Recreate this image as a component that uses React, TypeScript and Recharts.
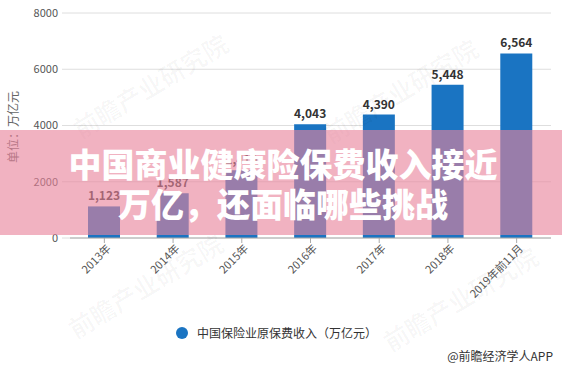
import React from 'react';
import { BarChart, Bar, XAxis, YAxis, CartesianGrid, LabelList } from 'recharts';

const years = ['2013年', '2014年', '2015年', '2016年', '2017年', '2018年', '2019年前11月'];
const premiums = [1123, 1587, 2410, 4043, 4390, 5448, 6564];
const yTicks = [0, 2000, 4000, 6000, 8000];

const seriesName = '中国保险业原保费收入（万亿元）';
const unitLabel = '单位：万亿元';
const titleLines = ['中国商业健康险保费收入接近', '万亿，还面临哪些挑战'];
const watermark = '前瞻产业研究院';
const source = '@前瞻经济学人APP';

const data = years.map((year, i) => ({ year, value: premiums[i] }));

const FONT = '"Noto Sans CJK SC", "Noto Sans", sans-serif';
const BLUE = '#1a74c2';

const XTick = (props: any) => {
  const { x, y, payload } = props;
  return (
    <g transform={`translate(${x + 3},${y})`}>
      <text x={0} y={0} dy={6} textAnchor="end" transform="rotate(-45)" fontSize={11} fill="#555">
        {payload.value}
      </text>
    </g>
  );
};

const marks = [
  { x: 150, y: 85 },
  { x: 400, y: 90 },
  { x: 145, y: 285 },
  { x: 460, y: 298 },
];

const App = () => {
  return (
    <div style={{ position: 'absolute', left: 0, top: 0, width: 562, height: 369, background: '#fff', fontFamily: FONT, overflow: 'hidden' }}>
      <BarChart width={562} height={369} data={data} margin={{ top: 13, right: 11, left: 0, bottom: 0 }}>
        <CartesianGrid vertical={false} stroke="#dedede" />
        <XAxis
          dataKey="year"
          height={131}
          interval={0}
          tick={<XTick />}
          tickSize={5}
          axisLine={{ stroke: '#aaa' }}
          tickLine={{ stroke: '#aaa' }}
        />
        <YAxis
          width={70}
          domain={[0, 8000]}
          ticks={yTicks}
          axisLine={false}
          tickSize={8}
          tickMargin={4}
          tickLine={{ stroke: '#dedede' }}
          tick={{ fontSize: 11, fill: '#555', fontFamily: FONT }}
        />
        <Bar dataKey="value" fill={BLUE} barSize={32} isAnimationActive={false}>
          <LabelList
            dataKey="value"
            position="top"
            offset={6}
            formatter={(v: any) => Number(v).toLocaleString('en-US')}
            style={{ fontSize: 12, fontWeight: 'bold', fill: '#333', fontFamily: FONT }}
          />
        </Bar>
      </BarChart>

      <div style={{ position: 'absolute', left: 12, top: 127, transform: 'translate(-50%,-50%) rotate(-90deg)', fontSize: 12, color: '#666', whiteSpace: 'nowrap' }}>
        {unitLabel}
      </div>

      {marks.map((m, i) => (
        <div
          key={i}
          style={{
            position: 'absolute',
            left: m.x,
            top: m.y,
            transform: 'translate(-50%,-50%) rotate(-31deg)',
            fontSize: 25,
            fontWeight: 'bold',
            color: 'rgba(0,0,0,0.03)',
            whiteSpace: 'nowrap',
            pointerEvents: 'none',
          }}
        >
          {watermark}
        </div>
      ))}

      <div style={{ position: 'absolute', left: 176, top: 327, width: 12, height: 12, borderRadius: 6, background: BLUE }} />
      <div style={{ position: 'absolute', left: 197, top: 325, fontSize: 12, color: '#333', lineHeight: '16px', whiteSpace: 'nowrap' }}>
        {seriesName}
      </div>
      <div style={{ position: 'absolute', right: 9, top: 348, fontSize: 12, color: '#333', lineHeight: '16px', whiteSpace: 'nowrap' }}>
        {source}
      </div>

      <div style={{ position: 'absolute', left: 0, top: 130, width: 562, height: 105, background: 'rgba(232,130,155,0.62)' }} />
      <div style={{ position: 'absolute', left: 0, top: 143, width: 566, textAlign: 'center', color: '#fff', fontSize: 33, fontWeight: 900, lineHeight: '40px', letterSpacing: 0 }}>
        <div>{titleLines[0]}</div>
        <div>{titleLines[1]}</div>
      </div>
    </div>
  );
};

export default App;
